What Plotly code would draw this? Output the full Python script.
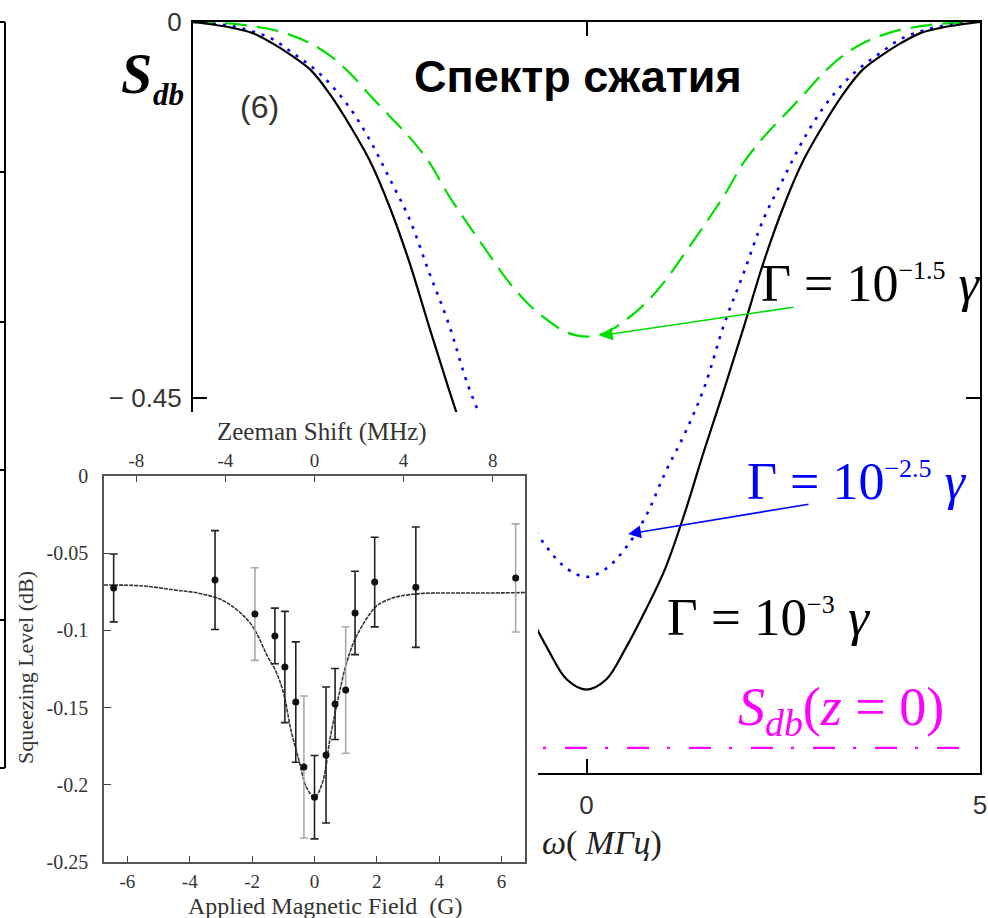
import plotly.graph_objects as go

W, H = 988, 918

# ---- main panel: squeezing spectrum S_db versus detuning ω (MHz) ----
omega_mhz = [-5.0, -4.75, -4.5, -4.25, -4.0, -3.75, -3.5, -3.25, -3.0, -2.75,
             -2.5, -2.25, -2.0, -1.75, -1.5, -1.25, -1.0, -0.75, -0.5, -0.25,
             0.0, 0.25, 0.5, 0.75, 1.0, 1.25, 1.5, 1.75, 2.0, 2.25,
             2.5, 2.75, 3.0, 3.25, 3.5, 3.75, 4.0, 4.25, 4.5, 4.75, 5.0]

# Γ = 10^-3 γ (solid black)
s_gamma_3 = [0.0, -0.003, -0.007, -0.013, -0.025, -0.040, -0.058, -0.088, -0.125, -0.167,
             -0.222, -0.288, -0.365, -0.440, -0.512, -0.588, -0.655, -0.705, -0.750, -0.788,
             -0.800, -0.788, -0.750, -0.705, -0.655, -0.588, -0.512, -0.440, -0.365, -0.288,
             -0.222, -0.167, -0.125, -0.088, -0.058, -0.040, -0.025, -0.013, -0.007, -0.003, 0.0]

# Γ = 10^-2.5 γ (blue dotted)
s_gamma_25 = [0.0, -0.002, -0.005, -0.011, -0.020, -0.036, -0.053, -0.075, -0.104, -0.142,
              -0.188, -0.236, -0.300, -0.362, -0.437, -0.493, -0.540, -0.593, -0.630, -0.655,
              -0.665, -0.655, -0.630, -0.593, -0.540, -0.493, -0.437, -0.362, -0.300, -0.236,
              -0.188, -0.142, -0.104, -0.075, -0.053, -0.036, -0.020, -0.011, -0.005, -0.002, 0.0]

# Γ = 10^-1.5 γ (green dashed)
s_gamma_15 = [0.0, -0.001, -0.002, -0.005, -0.009, -0.016, -0.026, -0.041, -0.062, -0.088,
              -0.113, -0.138, -0.168, -0.208, -0.243, -0.277, -0.310, -0.337, -0.357, -0.372,
              -0.377, -0.372, -0.357, -0.337, -0.310, -0.277, -0.243, -0.208, -0.168, -0.138,
              -0.113, -0.088, -0.062, -0.041, -0.026, -0.016, -0.009, -0.005, -0.002, -0.001, 0.0]

# level at the entrance, S_db(z = 0)
s_db_z0 = -0.87

main_x_ticks = [0, 5]
main_x_ticktext = ["0", "5"]
main_y_ticks = [0, -0.45]
main_y_ticktext = ["0", "− 0.45"]

# ---- inset: measured squeezing versus applied magnetic field ----
field_g = [-6.44, -3.19, -1.91, -1.27, -0.95, -0.60, -0.34, 0.0, 0.37, 0.66, 1.0, 1.3, 1.93, 3.25, 6.45]
level_db = [-0.0725, -0.0674, -0.0894, -0.1036, -0.1237, -0.1464, -0.1885, -0.208, -0.1807,
            -0.1477, -0.1386, -0.0887, -0.0687, -0.072, -0.066]
err_db = [0.022, 0.032, 0.030, 0.018, 0.036, 0.039, 0.046, 0.027, 0.044, 0.023, 0.041, 0.027,
          0.029, 0.039, 0.035]
bar_grey = [False, False, True, False, False, False, True, False, False, False, True, False,
            False, False, True]

fit_field_g = [-6.75, -5.5, -4.5, -3.75, -3.0, -2.5, -2.0, -1.5, -1.25, -1.0, -0.75, -0.5, -0.25,
               0.0, 0.25, 0.5, 0.75, 1.0, 1.25, 1.5, 1.75, 2.0, 2.5, 3.0, 3.5, 4.5, 5.5, 6.75]
fit_level_db = [-0.0706, -0.0712, -0.0738, -0.0758, -0.0800, -0.0865, -0.0970, -0.1170, -0.1260,
                -0.1400, -0.1650, -0.1840, -0.2020, -0.2080, -0.1990, -0.1700, -0.1450, -0.1230,
                -0.1080, -0.0980, -0.0900, -0.0840, -0.0790, -0.0770, -0.0760, -0.0758, -0.0758,
                -0.0755]

inset_x_ticks = [-6, -4, -2, 0, 2, 4, 6]
inset_x_ticktext = ["-6", "-4", "-2", "0", "2", "4", "6"]
inset_y_ticks = [0, -0.05, -0.1, -0.15, -0.2, -0.25]
inset_y_ticktext = ["0", "-0.05", "-0.1", "-0.15", "-0.2", "-0.25"]
zeeman_ticks = [-8, -4, 0, 4, 8]
zeeman_ticktext = ["-8", "-4", "0", "4", "8"]


def px(x):
    return x / W


def py(y):
    return 1 - y / H


GREEN = "#00dd00"
BLUE = "#0000ff"
MAGENTA = "#ff00ff"

fig = go.Figure()

# main curves
fig.add_trace(go.Scatter(x=omega_mhz, y=s_gamma_15, mode="lines", line_shape="spline",
                         line=dict(color=GREEN, width=2.2, dash="22px,10px"),
                         xaxis="x", yaxis="y", hoverinfo="skip"))
fig.add_trace(go.Scatter(x=omega_mhz, y=s_gamma_25, mode="lines", line_shape="spline",
                         line=dict(color=BLUE, width=2.6, dash="3px,7px"),
                         xaxis="x", yaxis="y", hoverinfo="skip"))
fig.add_trace(go.Scatter(x=omega_mhz, y=s_gamma_3, mode="lines", line_shape="spline",
                         line=dict(color="black", width=2.2),
                         xaxis="x", yaxis="y", hoverinfo="skip"))
fig.add_trace(go.Scatter(x=[omega_mhz[0], 4.85], y=[s_db_z0, s_db_z0], mode="lines",
                         line=dict(color=MAGENTA, width=2.2, dash="22px,18px,3px,19px"),
                         xaxis="x", yaxis="y", hoverinfo="skip"))

# white backing panel of the inset (sits above the main panel, below the inset)
fig.add_trace(go.Scatter(x=[10, 538, 538, 10, 10], y=[412, 412, 918, 918, 412],
                         mode="lines", fill="toself", fillcolor="white",
                         line=dict(width=0, color="white"),
                         xaxis="x2", yaxis="y2", hoverinfo="skip"))

# inset: fit curve, error bars and points
fig.add_trace(go.Scatter(x=fit_field_g, y=fit_level_db, mode="lines", line_shape="spline",
                         line=dict(color="#333333", width=1.6, dash="4px,1px"),
                         xaxis="x3", yaxis="y3", hoverinfo="skip"))
for grey in (False, True):
    xs = [f for f, g in zip(field_g, bar_grey) if g == grey]
    ys = [v for v, g in zip(level_db, bar_grey) if g == grey]
    es = [e for e, g in zip(err_db, bar_grey) if g == grey]
    fig.add_trace(go.Scatter(x=xs, y=ys, mode="markers",
                             marker=dict(color="#111111", size=7),
                             error_y=dict(type="data", array=es, visible=True,
                                          color="#aaaaaa" if grey else "#222222",
                                          thickness=1.6, width=4),
                             xaxis="x3", yaxis="y3", hoverinfo="skip"))
# carrier for the Zeeman-shift axis
fig.add_trace(go.Scatter(x=[], y=[], xaxis="x4", yaxis="y3", hoverinfo="skip"))

main_font = dict(family="Liberation Sans", size=26, color="#333333")
inset_font = dict(family="Liberation Serif", size=20, color="#333333")
inset_font_b = dict(family="Liberation Serif", size=19, color="#333333")

fig.update_layout(
    width=W, height=H,
    margin=dict(l=0, r=0, t=0, b=0, autoexpand=False),
    paper_bgcolor="white", plot_bgcolor="rgba(0,0,0,0)",
    showlegend=False,
    xaxis=dict(domain=[px(193), px(980)], range=[-5, 5], anchor="y", automargin=False,
               tickvals=main_x_ticks, ticktext=main_x_ticktext,
               ticks="inside", ticklen=14, tickwidth=2, tickcolor="black",
               showline=True, linewidth=2, linecolor="black", mirror="ticks",
               showgrid=False, zeroline=False, tickfont=main_font, ticklabelstandoff=8),
    yaxis=dict(domain=[py(773), py(22)], range=[-0.9, 0], anchor="x", automargin=False,
               tickvals=main_y_ticks, ticktext=main_y_ticktext,
               ticks="inside", ticklen=14, tickwidth=2, tickcolor="black",
               showline=True, linewidth=2, linecolor="black", mirror="ticks",
               showgrid=False, zeroline=False, tickfont=main_font, ticklabelstandoff=4),
    xaxis2=dict(domain=[0, 1], range=[0, W], anchor="y2", visible=False, fixedrange=True,
                automargin=False),
    yaxis2=dict(domain=[0, 1], range=[H, 0], anchor="x2", visible=False, fixedrange=True,
                automargin=False),
    xaxis3=dict(domain=[px(104), px(525)], range=[-6.75, 6.75], anchor="y3", automargin=False,
                tickvals=inset_x_ticks, ticktext=inset_x_ticktext,
                ticks="inside", ticklen=6, tickwidth=1.3,
                tickcolor="#444444", showline=True, linewidth=1.6, linecolor="#555555",
                mirror=True, showgrid=False, zeroline=False, tickfont=inset_font_b,
                ticklabelstandoff=1),
    yaxis3=dict(domain=[py(862), py(476)], range=[-0.25, 0], anchor="x3", automargin=False,
                tickvals=inset_y_ticks, ticktext=inset_y_ticktext,
                ticks="inside", ticklen=7, tickwidth=1.3, tickcolor="#444444",
                showline=True, linewidth=1.6, linecolor="#555555", mirror=True,
                showgrid=False, zeroline=False, tickfont=inset_font, ticklabelstandoff=10),
    xaxis4=dict(overlaying="x3", anchor="y3", side="top", range=[-9.45, 9.45],
                automargin=False, tickvals=zeeman_ticks, ticktext=zeeman_ticktext,
                ticks="inside", ticklen=6, tickwidth=1.3,
                tickcolor="#444444", showline=True, linewidth=1.6, linecolor="#555555",
                showgrid=False, zeroline=False, tickfont=inset_font_b, ticklabelstandoff=0),
)

serif = "Liberation Serif"
ann = []
# main panel labels
ann.append(dict(text="<b><i>S</i></b>", x=px(136), y=py(74), font=dict(family=serif, size=56, color="black")))
ann.append(dict(text="<b><i>db</i></b>", x=px(168), y=py(94), font=dict(family=serif, size=31, color="black")))
ann.append(dict(text="(6)", x=px(259), y=py(107), font=dict(family="Liberation Sans", size=32, color="#333333")))
ann.append(dict(text="<b>Спектр сжатия</b>", x=px(578), y=py(77), font=dict(family="Liberation Sans", size=45, color="black")))
ann.append(dict(text="Γ = 10<sup><span style='font-size:26px'>−1.5</span></sup> <i>γ</i>",
                x=px(759), y=py(283), xanchor="left",
                font=dict(family=serif, size=52, color="black")))
ann.append(dict(text="Γ = 10<sup><span style='font-size:26px'>−2.5</span></sup> <i>γ</i>",
                x=px(745), y=py(482), xanchor="left",
                font=dict(family=serif, size=52, color=BLUE)))
ann.append(dict(text="Γ = 10<sup><span style='font-size:26px'>−3</span></sup> <i>γ</i>",
                x=px(665), y=py(617), xanchor="left",
                font=dict(family=serif, size=53, color="black")))
ann.append(dict(text="<i>S</i><sub><i>db</i></sub>(<i>z</i> = 0)",
                x=px(736), y=py(710), xanchor="left",
                font=dict(family=serif, size=54, color=MAGENTA)))
ann.append(dict(text="<i>ω</i>( <i>MГц</i>)", x=px(540), y=py(843), xanchor="left",
                font=dict(family=serif, size=34, color="#222222")))
# arrows pointing at the curve minima
ann.append(dict(text="", x=0.17, y=-0.376, ax=2.65, ay=-0.3415, xref="x", yref="y",
                axref="x", ayref="y", showarrow=True, arrowhead=2, arrowsize=1.6,
                arrowwidth=1.6, arrowcolor=GREEN))
ann.append(dict(text="", x=0.53, y=-0.6136, ax=2.84, ay=-0.5776, xref="x", yref="y",
                axref="x", ayref="y", showarrow=True, arrowhead=2, arrowsize=1.6,
                arrowwidth=1.6, arrowcolor=BLUE))
# inset axis titles
ann.append(dict(text="Zeeman Shift (MHz)", x=px(322), y=py(432), font=dict(family=serif, size=25, color="#333333")))
ann.append(dict(text="Applied Magnetic Field  (G)", x=px(325), y=py(906), font=dict(family=serif, size=24, color="#333333")))
ann.append(dict(text="Squeezing Level (dB)", x=px(25), y=py(668), textangle=-90,
                font=dict(family=serif, size=22, color="#333333")))

for a in ann:
    a.setdefault("xref", "paper")
    a.setdefault("yref", "paper")
    a.setdefault("showarrow", False)
    a.setdefault("xanchor", "center")
    a.setdefault("yanchor", "middle")
fig.update_layout(annotations=ann)

# edge of the neighbouring panel on the left
edge = dict(color="black", width=2)
shapes = [dict(type="line", xref="paper", yref="paper", x0=px(5), x1=px(5), y0=py(22), y1=py(768), line=edge)]
for yy in (22, 172, 322, 470, 620, 768):
    shapes.append(dict(type="line", xref="paper", yref="paper", x0=px(0), x1=px(5), y0=py(yy), y1=py(yy), line=edge))
fig.update_layout(shapes=shapes)

fig.write_html("out.html")
